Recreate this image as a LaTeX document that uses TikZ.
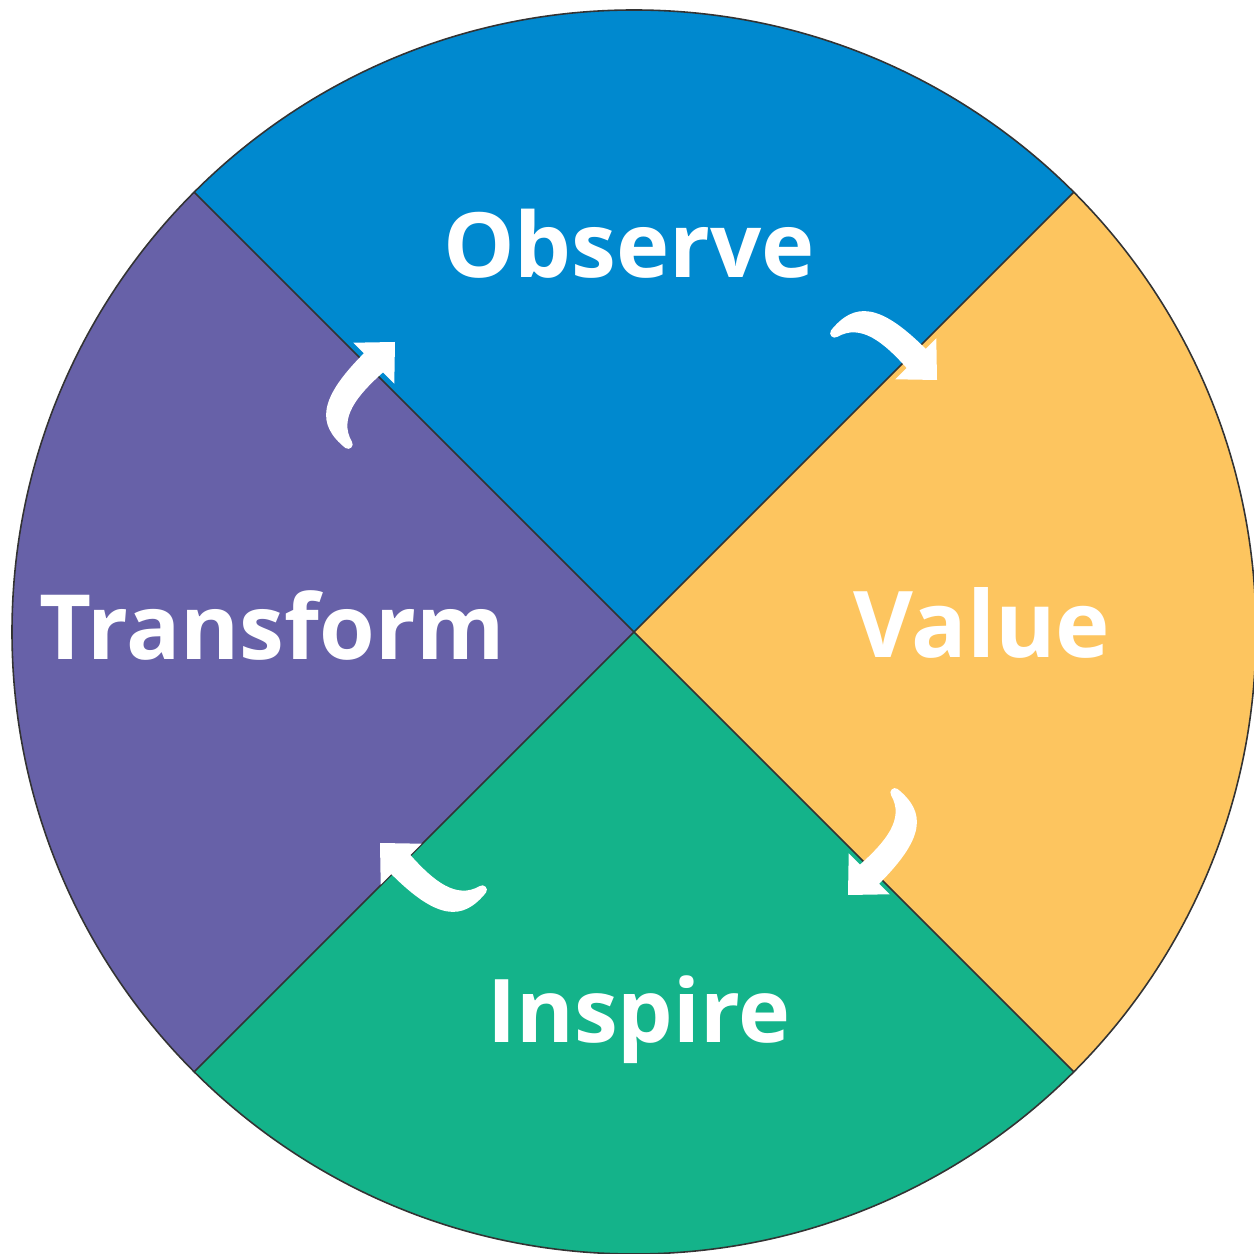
\documentclass[tikz,border=0pt]{standalone}
\usepackage{fontspec}
\setmainfont{Open Sans}
\definecolor{obsblue}{HTML}{0089CF}
\definecolor{valyellow}{HTML}{FDC55F}
\definecolor{insgreen}{HTML}{14B38A}
\definecolor{trapurple}{HTML}{6761A8}
\definecolor{edge}{HTML}{333333}
\newcommand{\lblsize}[1]{\bfseries\fontsize{#1}{#1}\selectfont}
\begin{document}
\begin{tikzpicture}[x=0.01cm,y=0.01cm,
  lbl/.style={text=white, anchor=base, inner sep=0pt},
  divider/.style={draw=edge, line width=0.45pt},
  carrow/.pic={
    \fill[white] (-110,-40) .. controls (-114,-3) and (-95,14) .. (-30,14)
      -- (-30,29) -- (0,0) -- (-30,-29) -- (-30,-13)
      .. controls (-65,-11) and (-94,-14) .. (-101,-40)
      .. controls (-102,-45) and (-109,-45) .. (-110,-40) -- cycle;
  }]
\useasboundingbox (0,0) rectangle (1254,1254);
\coordinate (c) at (634,622);
\fill[obsblue] (c) -- ++(45:622) arc[start angle=45,end angle=135,radius=622] -- cycle;
\fill[trapurple] (c) -- ++(135:622) arc[start angle=135,end angle=225,radius=622] -- cycle;
\fill[insgreen] (c) -- ++(225:622) arc[start angle=225,end angle=315,radius=622] -- cycle;
\fill[valyellow] (c) -- ++(315:622) arc[start angle=315,end angle=405,radius=622] -- cycle;
\path (c) ++(45:622) coordinate (ne) (c) ++(135:622) coordinate (nw)
      (c) ++(225:622) coordinate (sw) (c) ++(315:622) coordinate (se);
\draw[divider] (nw) -- (se);
\draw[divider] (ne) -- (sw);
\draw[divider] (c) circle[radius=622];
\node[lbl, font=\lblsize{25.6}] (observe) at (629,976) {Observe};
\node[lbl, font=\lblsize{25.6}] (transform) at (272,594) {Transform};
\node[lbl, font=\lblsize{26.2}] (value) at (982,596) {Value};
\node[lbl, font=\lblsize{25.0}] (inspire) at (639,211) {Inspire};
\pic[rotate=-45] at (937,874) {carrow};
\pic[rotate=-135] at (848,359) {carrow};
\pic[rotate=135] at (380,411) {carrow};
\pic[rotate=45] at (395,912) {carrow};
\end{tikzpicture}
\end{document}
